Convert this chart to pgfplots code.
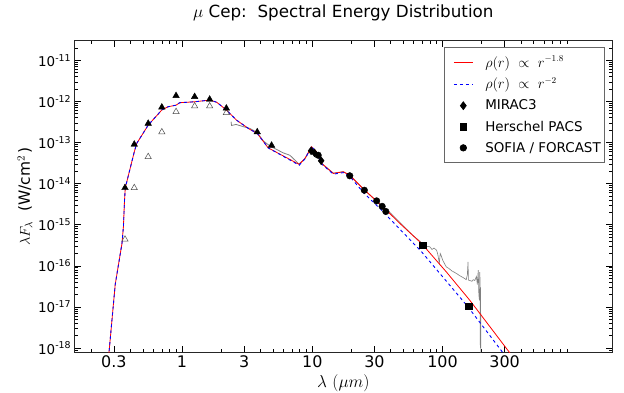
\documentclass[border=0pt]{standalone}
\usepackage{pgfplots}
\pgfplotsset{compat=1.18}
\usepackage{fontspec}
\setmainfont{DejaVu Sans}
\pgfplotsset{
  legend image code/.code={\path (0bp,0bp); \draw[mark repeat=2,mark phase=2,#1] plot coordinates {(7bp,0bp)(16.5bp,0bp)(26bp,0bp)};},
}
\begin{document}
\begin{tikzpicture}
\begin{loglogaxis}[
  name=ax, at={(0,0)}, anchor=south west,
  scale only axis, width=537.3bp, height=311.3bp,
  xmin=0.15, xmax=2000, ymin=8e-19, ymax=3e-11,
  xtick={0.3,1,3,10,30,100,300},
  xticklabels={0.3,1,3,10,30,100,300},
  minor xtick={0.2,0.4,0.5,0.6,0.7,0.8,0.9,2,4,5,6,7,8,9,20,40,50,60,70,80,90,200,400,500,600,700,800,900},
  ytick={1e-18,1e-17,1e-16,1e-15,1e-14,1e-13,1e-12,1e-11},
  yticklabels={10\textsuperscript{-18},10\textsuperscript{-17},10\textsuperscript{-16},10\textsuperscript{-15},10\textsuperscript{-14},10\textsuperscript{-13},10\textsuperscript{-12},10\textsuperscript{-11}},
  minor ytick={9e-19,2e-18,3e-18,4e-18,5e-18,6e-18,7e-18,8e-18,9e-18,2e-17,3e-17,4e-17,5e-17,6e-17,7e-17,8e-17,9e-17,2e-16,3e-16,4e-16,5e-16,6e-16,7e-16,8e-16,9e-16,2e-15,3e-15,4e-15,5e-15,6e-15,7e-15,8e-15,9e-15,2e-14,3e-14,4e-14,5e-14,6e-14,7e-14,8e-14,9e-14,2e-13,3e-13,4e-13,5e-13,6e-13,7e-13,8e-13,9e-13,2e-12,3e-12,4e-12,5e-12,6e-12,7e-12,8e-12,9e-12,2e-11,3e-11},
  major tick length=6bp, minor tick length=3.5bp,
  tick style={black, line width=0.6bp},
  axis line style={black!85, line width=0.8bp},
  xticklabel style={font=\fontsize{16}{16}\selectfont},
  yticklabel style={font=\fontsize{13.5}{13.5}\selectfont},
  title={$\mu$ Cep:\ \ Spectral Energy Distribution},
  title style={font=\fontsize{16.8}{16.8}\selectfont, at={(axis description cs:0.5,1)}, anchor=base, yshift=17.7bp},
  xlabel={$\lambda\ (\mu m)$},
  xlabel style={font=\fontsize{17}{17}\selectfont, at={(axis description cs:0.5,-0.0996)}, anchor=center},
  ylabel={$\lambda F_\lambda$\ \ (W/cm$^2$\,)},
  ylabel style={font=\fontsize{15.5}{15.5}\selectfont, at={(axis description cs:-0.0925,0.5)}, anchor=center},
  legend cell align=left,
  legend style={at={(axis description cs:0.987,0.979)}, anchor=north east, draw=black!60, line width=0.6bp, font=\fontsize{13.5}{15}\selectfont, inner xsep=2bp, inner ysep=6.5bp, row sep=5.5bp, /tikz/every odd column/.append style={column sep=10bp}},
]
% ISO spectrum
\addplot[draw=gray, line width=0.8bp, forget plot] table {
2.38 3.2e-13
2.40 2.6e-13
2.6 2.75e-13
3.0 2.4e-13
3.32 2.2e-13
3.78 1.75e-13
4.2 1.1e-13
4.73 8.2e-14
5.32 6.8e-14
5.98 5.6e-14
6.73 4.9e-14
7.14 4.1e-14
7.9 3.0e-14
8.78 4.0e-14
9.88 7.6e-14
10.8 5.8e-14
11.8 3.1e-14
14.5 1.8e-14
17.3 1.95e-14
19.4 1.6e-14
25.3 6.8e-15
35 2.7e-15
40 1.9e-15
45 1.3e-15
};
% Herschel spectrum
\addplot[draw=gray, line width=0.6bp, forget plot] table {
45 1.3e-15
55 6.9e-16
60 5.3e-16
65 4.3e-16
70 3.5e-16
75 3.0e-16
80 2.9e-16
83 2.5e-16
86 2.7e-16
90 2.4e-16
92 1.9e-16
94.5 1.15e-16
96 2.0e-16
97.5 1.8e-16
100 1.4e-16
104 1.1e-16
107 9.4e-17
112 8.6e-17
118 7.5e-17
123 7.0e-17
128 6.5e-17
135 5.8e-17
142 5.3e-17
148 4.9e-17
152 4.6e-17
155 6e-17
157 1.25e-16
158 4.5e-17
162 4.4e-17
168 4.2e-17
172 4.6e-17
177 4.4e-17
182 5.5e-17
185 3.5e-17
188 7.8e-17
190 2.0e-17
192 1.45e-17
193 7e-17
194 4.9e-17
195 1e-18
196 3e-17
197 5e-19
};
% open triangles
\addplot[only marks, mark=triangle, mark size=3.6bp, mark options={draw=black!70, fill=white, line width=0.5bp}, forget plot] table {
0.365 4.4e-16
0.43 7.9e-15
0.55 4.5e-14
0.70 1.8e-13
0.90 5.6e-13
1.25 7.7e-13
1.63 7.7e-13
2.19 5.3e-13
};
% filled triangles
\addplot[only marks, mark=triangle*, mark size=3.8bp, draw=black, fill=black, forget plot] table {
0.365 7.9e-15
0.43 9e-14
0.55 2.9e-13
0.70 7.2e-13
0.90 1.37e-12
1.25 1.3e-12
1.63 1.12e-12
2.19 6.8e-13
3.78 1.8e-13
4.87 8.5e-14
};
% model r^-1.8
\addplot[draw=red, line width=0.8bp] table {
0.273 6e-19
0.307 3.5e-17
0.346 3.5e-16
0.355 9e-16
0.362 4e-15
0.367 7.9e-15
0.43 5.9e-14
0.449 9.5e-14
0.55 2.65e-13
0.70 6.2e-13
0.78 7.4e-13
0.90 8.1e-13
0.96 9.3e-13
1.25 9.8e-13
1.64 1.08e-12
1.85 9.5e-13
2.19 6.2e-13
2.62 3.5e-13
3.32 2.08e-13
3.78 1.67e-13
4.59 7.4e-14
7.94 2.93e-14
8.78 4.1e-14
9.88 7.9e-14
10.8 5.9e-14
11.8 3.1e-14
14.5 1.77e-14
17.3 1.94e-14
19.4 1.6e-14
25.3 6.9e-15
35 2.7e-15
47.1 1.07e-15
69 3.5e-16
107 7.1e-17
162 1.45e-17
310 9.7e-19
340 6.6e-19
};
\addlegendentry{$\rho(r)\ \propto\ r^{-1.8}$}
% model r^-2
\addplot[draw=blue, line width=0.9bp, dash pattern=on 3bp off 3bp] table {
0.273 6e-19
0.307 3.5e-17
0.346 3.5e-16
0.355 9e-16
0.362 4e-15
0.367 7.9e-15
0.43 5.9e-14
0.449 9.5e-14
0.55 2.65e-13
0.70 6.2e-13
0.78 7.4e-13
0.90 8.1e-13
0.96 9.3e-13
1.25 9.8e-13
1.64 1.08e-12
1.85 9.5e-13
2.19 6.2e-13
2.62 3.5e-13
3.32 2.08e-13
3.78 1.67e-13
4.59 7.4e-14
7.94 2.8e-14
8.78 4.0e-14
9.88 7.9e-14
10.8 5.9e-14
11.8 3.0e-14
14.5 1.7e-14
17.3 1.85e-14
19.4 1.5e-14
25 5.8e-15
33 2.5e-15
69 2.2e-16
157 1.0e-17
275 9.7e-19
295 7.2e-19
};
\addlegendentry{$\rho(r)\ \propto\ r^{-2}$}
\addplot[only marks, mark=diamond*, mark size=4bp, draw=black, fill=black] table {
9.8 6.3e-14
10.4 5.6e-14
11.7 3.6e-14
};
\addlegendentry{MIRAC3}
\addplot[only marks, mark=square*, mark size=3.3bp, draw=black, fill=black] table {
70.3 3.2e-16
159 1.04e-17
};
\addlegendentry{Herschel PACS}
\addplot[only marks, mark=*, mark size=3.3bp, draw=black, fill=black] table {
11.1 4.9e-14
19.4 1.55e-14
25.1 6.9e-15
31.2 3.8e-15
34.4 2.8e-15
36.7 2.1e-15
};
\addlegendentry{SOFIA / FORCAST}
\end{loglogaxis}
\pgfresetboundingbox
\path[use as bounding box] ([shift={(-74.7bp,-41bp)}]ax.south west) rectangle ([shift={(12bp,40.7bp)}]ax.north east);
\end{tikzpicture}
\end{document}
